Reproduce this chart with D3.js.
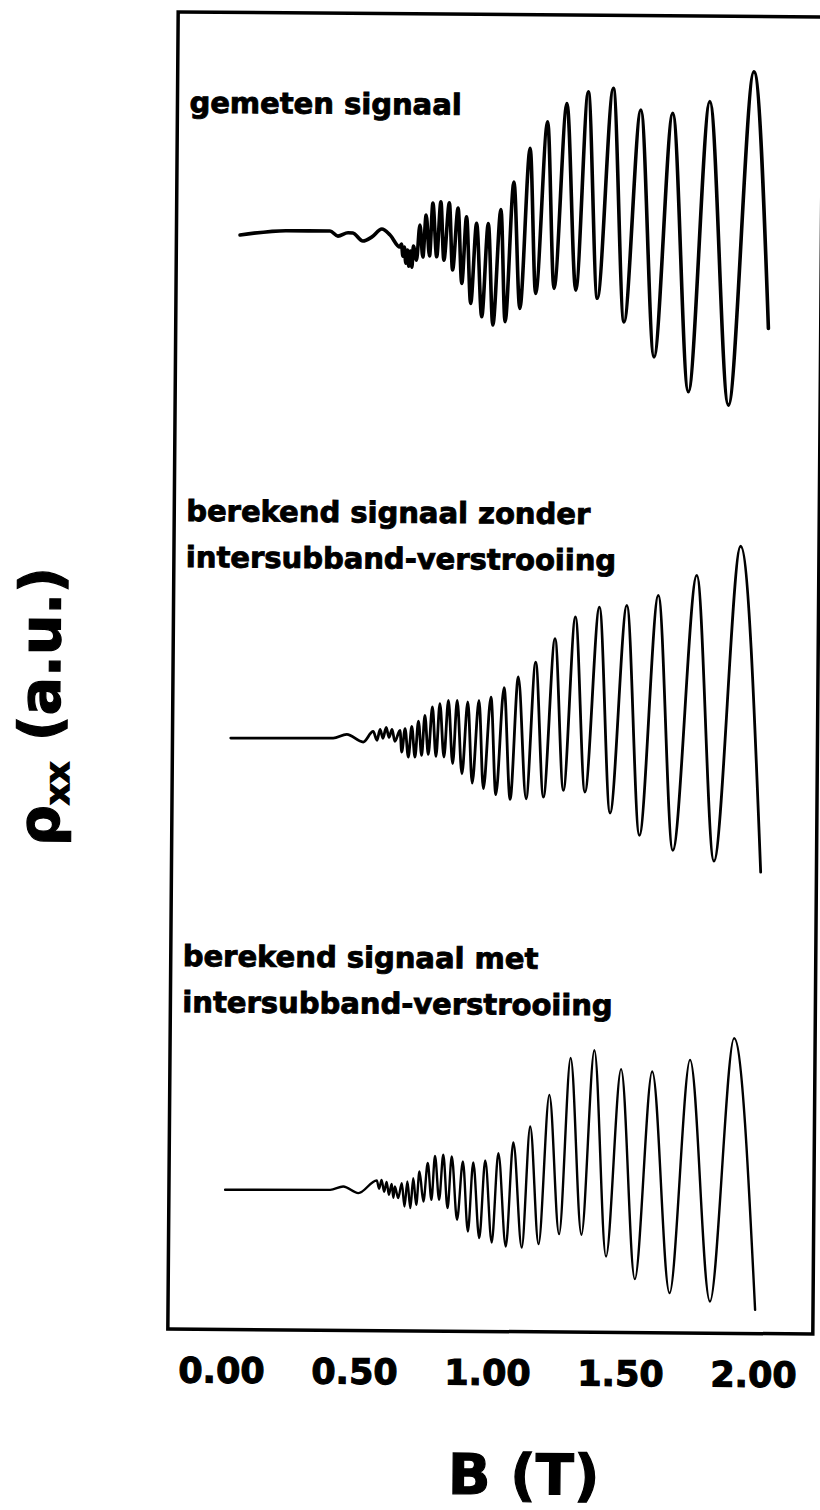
<!DOCTYPE html>
<html>
<head>
<meta charset="utf-8">
<script src="https://cdn.jsdelivr.net/npm/d3@7"></script>
<style>
  html, body { margin: 0; padding: 0; background: #fff; }
  svg { display: block; }
  text { font-family: "DejaVu Sans", "Liberation Sans", sans-serif; font-weight: bold; fill: #000; stroke: #000; paint-order: stroke; }
</style>
</head>
<body>
<svg id="chart" width="820" height="1510"></svg>
<script>
// Shubnikov–de Haas traces: rho_xx (a.u., relative to each trace's own baseline) against B (T)

// measured signal
const measuredB = [0.038,0.213,0.376,0.406,0.444,0.462,0.500,0.533,0.571,0.602,0.639,0.645,0.651,0.656,0.662,0.668,0.673,0.679,0.685,0.690,0.702,0.714,0.726,0.737,0.751,0.762,0.778,0.792,0.805,0.824,0.838,0.857,0.873,0.889,0.907,0.927,0.949,0.971,0.991,1.018,1.037,1.066,1.092,1.126,1.151,1.191,1.220,1.263,1.302,1.343,1.383,1.437,1.484,1.541,1.598,1.661,1.728,1.800,1.879,1.965,2.027];
const measuredRho = [0.00,0.36,0.36,-0.02,0.24,0.22,-0.38,-0.08,0.54,0.09,-0.81,-0.58,-1.50,-0.81,-2.03,-1.04,-2.26,-1.12,-2.33,-0.74,-1.80,0.87,-1.56,1.63,-1.48,2.54,-1.53,2.65,-1.78,2.57,-2.53,2.18,-3.54,1.53,-5.05,1.03,-6.06,1.03,-6.68,2.09,-6.42,4.18,-5.40,6.76,-4.25,8.79,-3.86,10.18,-3.98,11.09,-4.59,11.36,-6.36,9.73,-9.00,9.50,-11.63,10.41,-12.62,12.71,-6.77];

// calculated without intersubband scattering
const noScatterB = [0.018,0.403,0.454,0.516,0.553,0.568,0.579,0.590,0.602,0.613,0.624,0.635,0.654,0.661,0.673,0.686,0.698,0.711,0.723,0.736,0.747,0.761,0.775,0.790,0.803,0.820,0.835,0.853,0.868,0.888,0.908,0.927,0.950,0.969,0.995,1.016,1.044,1.070,1.097,1.130,1.162,1.195,1.234,1.270,1.310,1.351,1.400,1.446,1.503,1.557,1.621,1.683,1.765,1.838,1.929,2.014];
const noScatterRho = [0,0.06,0.35,-0.22,0.59,-0.08,0.75,0.08,0.90,0.15,0.76,-0.15,0.69,-0.96,0.82,-1.34,0.99,-1.33,1.40,-1.20,1.84,-1.12,2.48,-1.27,2.74,-1.31,2.99,-1.81,3.00,-2.57,2.88,-3.27,3.01,-3.69,3.27,-4.14,3.99,-4.49,4.81,-4.43,5.95,-4.29,7.74,-3.77,9.41,-3.89,10.17,-5.47,10.31,-7.14,11.09,-8.26,12.63,-9.05,14.87,-9.86];

// calculated with intersubband scattering
const withScatterB = [0.010,0.405,0.454,0.511,0.580,0.589,0.598,0.608,0.617,0.626,0.636,0.643,0.648,0.661,0.674,0.685,0.695,0.707,0.717,0.729,0.740,0.756,0.771,0.786,0.798,0.815,0.829,0.847,0.861,0.883,0.903,0.924,0.942,0.967,0.987,1.014,1.036,1.067,1.092,1.127,1.155,1.190,1.226,1.267,1.305,1.351,1.394,1.444,1.495,1.553,1.612,1.684,1.754,1.836,1.919,2.006];
const withScatterRho = [0,0.06,0.32,-0.17,0.80,0.17,0.85,-0.06,0.70,-0.28,0.55,-0.51,0.35,-0.53,0.61,-1.16,0.74,-1.28,0.99,-1.03,1.50,-0.77,2.15,-0.64,2.70,-0.63,2.79,-1.26,2.67,-2.14,2.29,-3.02,2.22,-3.52,2.38,-3.84,2.95,-4.14,3.76,-4.21,4.99,-3.94,7.40,-3.17,10.21,-3.20,10.81,-4.84,9.40,-6.54,9.24,-7.58,10.14,-8.19,11.81,-8.80];

// vertical offsets that stack the three traces (a.u.)
const traceOffsets = [83.1, 44.9, 10.6];

const traceLabels = [
  ["gemeten signaal"],
  ["berekend signaal zonder", "intersubband-verstrooiing"],
  ["berekend signaal met", "intersubband-verstrooiing"]
];

const xTicks = [0, 0.5, 1.0, 1.5, 2.0];
const xTitle = "B (T)";

// ---- layout ----
const frame = { left: 173, top: 14.5, right: 818, bottom: 1331.5 };

const svg = d3.select("#chart");
const root = svg.append("g").attr("transform", "rotate(0.45, 495, 673)");

const x = d3.scaleLinear().domain([0, 2]).range([226.5, 758.5]);
const y = d3.scaleLinear().domain([0, 100]).range([frame.bottom, frame.top]);

// plot frame
root.append("rect")
  .attr("x", frame.left).attr("y", frame.top)
  .attr("width", frame.right - frame.left)
  .attr("height", frame.bottom - frame.top)
  .attr("fill", "none").attr("stroke", "#000").attr("stroke-width", 3.5);

// x tick labels (no tick marks)
const xAxis = d3.axisBottom(x)
  .tickValues(xTicks)
  .tickFormat(d3.format(".2f"))
  .tickSize(0)
  .tickPadding(28.5);
const gx = root.append("g")
  .attr("transform", `translate(0,${frame.bottom})`)
  .call(xAxis);
gx.select(".domain").remove();
gx.selectAll("text")
  .attr("font-family", "DejaVu Sans")
  .attr("font-weight", "bold")
  .attr("font-size", 35)
  .attr("fill", "#000")
  .attr("stroke", "#000")
  .attr("stroke-width", 1.1);

// axis titles
root.append("text")
  .attr("x", 530).attr("y", 1494)
  .attr("text-anchor", "middle")
  .attr("font-size", 56)
  .attr("stroke-width", 1.2)
  .text(xTitle);

const yTitle = root.append("text")
  .attr("transform", "translate(60,710) rotate(-90)")
  .attr("text-anchor", "middle")
  .attr("font-size", 57)
  .attr("stroke-width", 1.2);
yTitle.append("tspan").text("ρ");
yTitle.append("tspan").attr("font-size", 34).attr("dy", 10).text("xx");
yTitle.append("tspan").attr("dy", -10).text(" (a.u.)");

// traces
const series = [
  { b: measuredB, rho: measuredRho, width: 3.6 },
  { b: noScatterB, rho: noScatterRho, width: 2.8 },
  { b: withScatterB, rho: withScatterRho, width: 2.4 }
];

series.forEach((s, i) => {
  const pts = s.b.map((b, k) => ({ b, v: s.rho[k] + traceOffsets[i] }));
  const line = d3.line()
    .x(d => x(d.b))
    .y(d => y(d.v))
    .curve(d3.curveMonotoneX);
  root.append("path")
    .datum(pts)
    .attr("d", line)
    .attr("fill", "none")
    .attr("stroke", "#000")
    .attr("stroke-width", s.width)
    .attr("stroke-linejoin", "round")
    .attr("stroke-linecap", "round");
});

// trace captions
const captionBaselines = [[115], [523.4, 569.5], [968.5, 1014.5]];
traceLabels.forEach((lines, i) => {
  lines.forEach((txt, j) => {
    root.append("text")
      .attr("x", 185)
      .attr("y", captionBaselines[i][j])
      .attr("font-size", 29)
      .attr("stroke-width", 0.9)
      .text(txt);
  });
});
</script>
</body>
</html>
